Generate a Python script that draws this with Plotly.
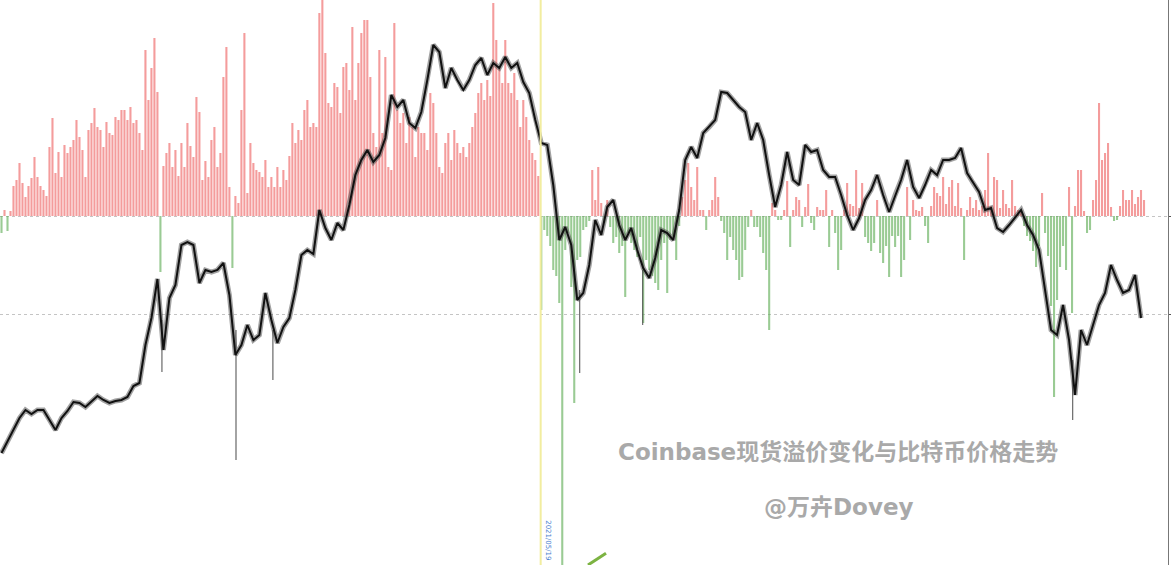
import plotly.graph_objects as go

# Coinbase spot premium (daily bars, arbitrary units; + red, - green)
premium = [
    -17, 6, -15, 5, 30, 36, 53, 33, 19, 30,
    38, 59, 39, 30, 26, 20, 69, 98, 43, 64,
    39, 71, 63, 69, 76, 96, 79, 66, 39, 86,
    93, 108, 89, 86, 69, 94, 83, 81, 99, 96,
    106, 106, 96, 109, 93, 96, 83, 66, 166, 116,
    148, 178, 124, -56, 50, 63, 73, 49, 66, 40,
    73, 49, 93, 70, 59, 119, 104, 36, 55, 39,
    76, 89, 49, 63, 139, 169, 29, -52, 20, 13,
    106, 183, 23, 73, 53, 46, 44, 39, 56, 29,
    39, 29, 49, 29, 46, 36, 60, 93, 73, 86,
    76, 106, 116, 89, 93, 89, 203, 220, 163, 113,
    109, 133, 129, 103, 149, 153, 126, 189, 116, 153,
    183, 196, 196, 139, 83, 69, 166, 83, 159, 49,
    46, 193, 106, 93, 103, 73, 99, 89, 59, 89,
    83, 83, 66, 123, 113, 83, 49, 43, 73, 83,
    56, 86, 73, 63, 69, 59, 73, 89, 103, 123,
    133, 116, 136, 120, 213, 176, 149, 133, 176, 133,
    123, 143, 116, 89, 116, 99, 76, 63, 56, 40,
    -94, -14, -20, -30, -54, -60, -87, -350, -34, -17,
    -71, -187, -44, -41, -14, -11, -5, 46, 16, 49,
    13, -7, 16, -11, -27, -21, -37, -30, -81, -17,
    -27, -34, -41, -21, -107, -44, -54, -60, -67, -74,
    -44, -27, -77, -24, -21, -44, -10, 19, 36, 53,
    29, 16, 49, 6, 6, -14, 6, 16, 39, 19,
    -5, -17, -44, -21, -34, -44, -64, -61, -34, -11,
    6, -11, -11, -21, -37, -54, -114, 13, 6, -4,
    -4, 6, 35, -31, 6, 19, 16, -11, 9, 32,
    -7, -14, 9, 6, 6, 26, -31, 6, -17, -54,
    -34, 6, 33, 12, 10, 46, 8, 33, -21, -27,
    -35, -27, 16, -37, -47, -30, -61, -20, -31, -20,
    -61, -44, 29, -24, 16, 6, 5, 9, -10, -27,
    10, 29, 23, 20, 39, 12, 29, 36, 10, 33,
    8, -44, 6, 19, 8, 16, 6, 10, 26, 63,
    10, 39, 36, 8, 26, 12, 8, 36, 10, 6,
    5, -10, -20, -25, -35, -51, -30, 23, -17, -40,
    -90, -181, -84, -51, -30, -54, 29, -97, 10, 46,
    46, 5, -17, -14, 16, 36, 113, 56, 63, 73,
    9, -5, -4, 10, 26, 16, 16, 26, 12, 19,
    26, 16,
]

# BTC price (sampled every second day, arbitrary units)
price = [
    112, 124, 135, 147, 155, 151, 155, 155, 145, 135,
    147, 154, 163, 162, 158, 164, 169, 165, 162, 164,
    165, 168, 179, 182, 220, 247, 286, 215, 267, 280,
    320, 323, 320, 282, 295, 293, 295, 302, 270, 210,
    220, 240, 225, 230, 272, 245, 222, 238, 247, 275,
    310, 315, 311, 355, 337, 325, 342, 335, 360, 390,
    405, 415, 403, 410, 427, 470, 458, 465, 442, 437,
    453, 485, 520, 513, 477, 497, 485, 475, 485, 500,
    507, 490, 502, 497, 508, 497, 502, 483, 472, 445,
    422, 420, 380, 325, 338, 320, 265, 272, 300, 345,
    330, 358, 365, 340, 325, 337, 315, 297, 287, 307,
    335, 332, 325, 355, 405, 418, 407, 432, 438, 445,
    473, 472, 465, 458, 453, 425, 442, 425, 390, 358,
    380, 413, 385, 380, 420, 413, 415, 395, 388, 388,
    370, 350, 335, 347, 365, 375, 390, 370, 353, 370,
    385, 405, 378, 367, 380, 395, 390, 405, 405, 407,
    417, 392, 382, 373, 355, 357, 337, 333, 340, 347,
    355, 340, 330, 315, 275, 235, 230, 260, 225, 170,
    235, 220, 240, 260, 272, 300, 285, 272, 275, 290,
    247,
]

# long candle wicks
wick_day = [53.5, 78.2, 90.5, 192.8, 213.8, 357.2]
wick_top = [245, 235, 235, 275, 295, 205]
wick_low = [193, 105, 185, 192, 240, 145]

event_day = 179.8
price_grid = [251, 349]

title_text = "Coinbase现货溢价变化与比特币价格走势"
author_text = "@万卉Dovey"
event_label = "2021/05/19"

days = list(range(len(premium)))
price_days = list(range(0, 2 * len(price), 2))
bar_colors = ["rgba(238,95,95,0.62)" if v >= 0 else "rgba(100,175,90,0.65)" for v in premium]

wx, wy = [], []
for d, t, l in zip(wick_day, wick_top, wick_low):
    wx += [d, d, None]
    wy += [t, l, None]

fig = go.Figure()
fig.add_trace(go.Bar(x=days, y=premium, marker=dict(color=bar_colors, line=dict(width=0)),
                     yaxis="y", showlegend=False))
fig.add_trace(go.Scatter(x=wx, y=wy, mode="lines", yaxis="y2",
                         line=dict(color="rgba(80,80,80,0.8)", width=1.3), showlegend=False))
fig.add_trace(go.Scatter(x=price_days, y=price, mode="lines", yaxis="y2",
                         line=dict(color="rgba(70,70,70,0.5)", width=5), showlegend=False))
fig.add_trace(go.Scatter(x=price_days, y=price, mode="lines", yaxis="y2",
                         line=dict(color="#111111", width=2), showlegend=False))

fig.add_shape(type="line", xref="x", yref="paper", x0=event_day, x1=event_day, y0=0, y1=1,
              line=dict(color="#f2eda0", width=2))
fig.add_shape(type="line", xref="paper", yref="paper", x0=588 / 1168, y0=0.0,
              x1=606 / 1168, y1=0.021, line=dict(color="#7cb342", width=3))

wm_font = dict(family="DejaVu Sans, Noto Sans CJK SC", size=23, color="#a9a9a9", weight="bold")
fig.add_annotation(text=title_text, xref="paper", yref="paper", x=0.7175, y=0.2,
                   xanchor="center", yanchor="middle", showarrow=False, font=wm_font)
fig.add_annotation(text=author_text, xref="paper", yref="paper", x=0.7175, y=0.103,
                   xanchor="center", yanchor="middle", showarrow=False, font=wm_font)
fig.add_annotation(text=event_label, xref="paper", yref="paper", x=548 / 1168, y=0.005,
                   xanchor="center", yanchor="bottom", textangle=90, showarrow=False,
                   font=dict(family="DejaVu Sans", size=7, color="#4a7fd0"))

fig.update_layout(
    width=1171, height=565,
    margin=dict(l=0, r=3, t=0, b=0),
    paper_bgcolor="white", plot_bgcolor="white",
    bargap=0.3,
    xaxis=dict(range=[-0.5, 389], visible=False, showgrid=False, zeroline=False),
    yaxis=dict(range=[-349, 216], visible=False, showgrid=False, zeroline=False),
    yaxis2=dict(range=[0, 565], overlaying="y", side="right", tickvals=price_grid,
                showticklabels=False, showgrid=True, gridcolor="#c4c4c4", griddash="dot",
                gridwidth=1, zeroline=False, showline=True, linecolor="#777", linewidth=1,
                ticks="outside", ticklen=4, tickcolor="#555"),
)

fig.write_html("out.html", config={"displayModeBar": False},
               post_script="document.body.style.margin='0';document.body.style.overflow='hidden';")
